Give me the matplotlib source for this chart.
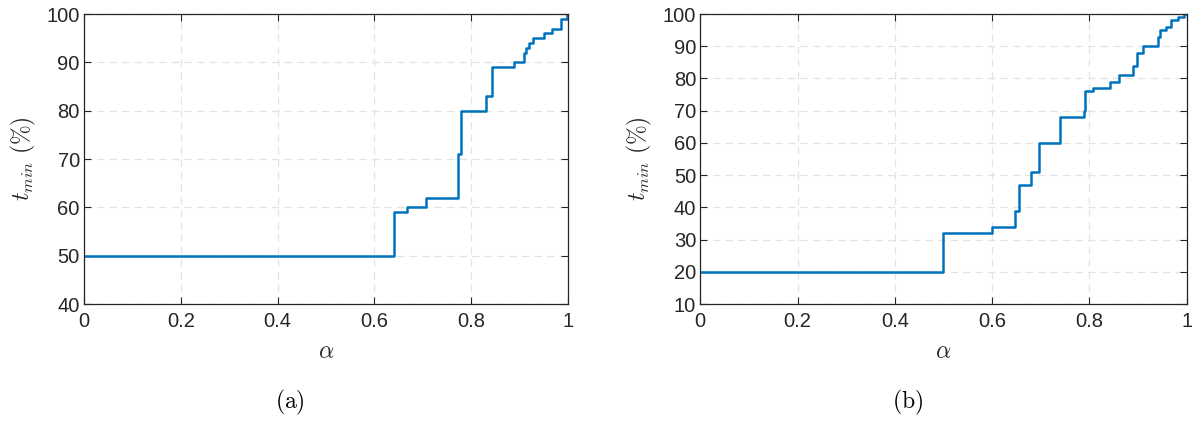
import matplotlib
matplotlib.use("Agg")
import matplotlib.pyplot as plt

# Data (step functions, value holds from each alpha until the next)
alpha_a = [0, 0.641, 0.667, 0.706, 0.773, 0.778, 0.831, 0.842, 0.888, 0.909,
           0.913, 0.919, 0.928, 0.950, 0.966, 0.985, 0.998, 1.0]
tmin_a = [50, 59, 60, 62, 71, 80, 83, 89, 90, 92, 93, 94, 95, 96, 97, 99, 100, 100]

alpha_b = [0, 0.5, 0.6, 0.647, 0.656, 0.680, 0.696, 0.739, 0.788, 0.792, 0.807,
           0.842, 0.860, 0.890, 0.898, 0.910, 0.941, 0.945, 0.958, 0.967, 0.982,
           0.995, 1.0]
tmin_b = [20, 32, 34, 39, 47, 51, 60, 68, 70, 76, 77, 79, 81, 84, 88, 90, 93,
          95, 96, 98, 99, 100, 100]

xticks = [0, 0.2, 0.4, 0.6, 0.8, 1]
xticklabels = ["0", "0.2", "0.4", "0.6", "0.8", "1"]
yticks_a = [40, 50, 60, 70, 80, 90, 100]
yticks_b = [10, 20, 30, 40, 50, 60, 70, 80, 90, 100]
captions = ["(a)", "(b)"]

plt.rcParams['mathtext.fontset'] = 'cm'
plt.rcParams['font.family'] = ['Liberation Sans', 'DejaVu Sans']

fig = plt.figure(figsize=(11.92, 4.21), dpi=100)
ax_a = fig.add_axes([0.0705, 0.2779, 0.406, 0.6888])
ax_b = fig.add_axes([0.5875, 0.2779, 0.408, 0.6888])

dark = "#262626"
for ax, xs, ys, yt, cap, cx in [(ax_a, alpha_a, tmin_a, yticks_a, captions[0], 0.2433),
                                (ax_b, alpha_b, tmin_b, yticks_b, captions[1], 0.7617)]:
    ax.plot(xs, ys, drawstyle='steps-post', color='#0072BD', lw=1.8)
    ax.set_xlim(0, 1)
    ax.set_ylim(yt[0], yt[-1])
    ax.set_xticks(xticks)
    ax.set_xticklabels(xticklabels)
    ax.set_yticks(yt)
    ax.grid(True, linestyle=(0, (6, 4)), color='#e3e3e3', lw=0.9)
    ax.set_axisbelow(True)
    ax.tick_params(direction='in', length=5, width=0.8, colors=dark,
                   labelsize=14.5, top=True, right=True, pad=3)
    ax.tick_params(axis='x', pad=6)
    for s in ax.spines.values():
        s.set_color(dark)
        s.set_linewidth(0.9)
    ax.set_xlabel(r'$\alpha$', fontsize=17, color=dark, labelpad=7)
    ax.set_ylabel(r'$t_{min}\ (\%)$', fontsize=17, color=dark, labelpad=6)
    fig.text(cx, 0.043, r'$\mathrm{' + cap + '}$',
             ha='center', va='center', fontsize=17, color='black')

fig.savefig("out.png", dpi=100)
